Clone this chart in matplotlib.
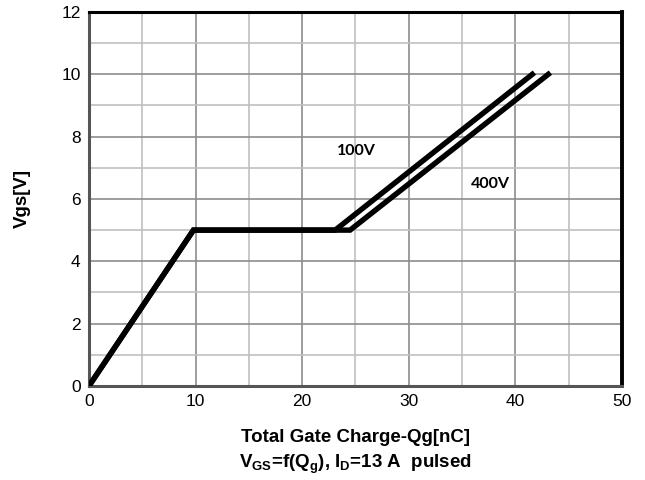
import numpy as np
import matplotlib
matplotlib.use("Agg")
import matplotlib.pyplot as plt

plt.rcParams['font.family'] = ['Liberation Sans', 'DejaVu Sans']
plt.rcParams['mathtext.fontset'] = 'custom'
plt.rcParams['mathtext.rm'] = 'Liberation Sans:bold'
plt.rcParams['mathtext.bf'] = 'Liberation Sans:bold'
plt.rcParams['mathtext.default'] = 'rm'

# gate charge curves (Qg in nC, Vgs in V)
qg_100v = [0, 9.8, 23.1, 41.6]
vgs_100v = [0, 5, 5, 10]
qg_400v = [0, 9.8, 24.5, 43.1]
vgs_400v = [0, 5, 5, 10]

x_ticks = [0, 10, 20, 30, 40, 50]
y_ticks = [0, 2, 4, 6, 8, 10, 12]

fig = plt.figure(figsize=(6.45, 4.8), dpi=100)
ax = fig.add_axes([0.138, 0.196, 0.826, 0.779])

ax.plot(qg_100v, vgs_100v, color='black', lw=3.9, solid_joinstyle='miter', zorder=3)
ax.plot(qg_400v, vgs_400v, color='black', lw=3.9, solid_joinstyle='miter', zorder=3)

ax.set_xlim(0, 50)
ax.set_ylim(0, 12)
ax.set_xticks(x_ticks)
ax.set_yticks(y_ticks)
ax.set_xticks(np.arange(5, 50, 10), minor=True)
ax.set_yticks(np.arange(1, 12, 2), minor=True)
ax.grid(which='major', color='#8c8c8c', lw=1.2)
ax.grid(which='minor', color='#c0c0c0', lw=1.2)
ax.set_axisbelow(True)
ax.tick_params(which='both', length=0, labelsize=12.5, pad=6)

ax.spines['top'].set_linewidth(2.2)
ax.spines['right'].set_linewidth(2.8)
ax.spines['left'].set_linewidth(2.2)
ax.spines['left'].set_color('#555555')
ax.spines['bottom'].set_linewidth(2.2)
ax.spines['bottom'].set_color('#555555')

ax.text(23.3, 7.4, '100V', fontsize=11.5, fontweight='bold', family='Lato')
ax.text(35.8, 6.35, '400V', fontsize=11.5, fontweight='bold', family='Lato')

ax.set_ylabel('Vgs[V]', fontsize=13.5, fontweight='bold', labelpad=22)
ax.set_xlabel('Total Gate Charge-Qg[nC]\n$V_{GS}$=f(Q$_g$), I$_D$=13 A  pulsed',
              fontsize=13.5, fontweight='bold', labelpad=14, linespacing=1.45)

fig.savefig('out.png', dpi=100)
